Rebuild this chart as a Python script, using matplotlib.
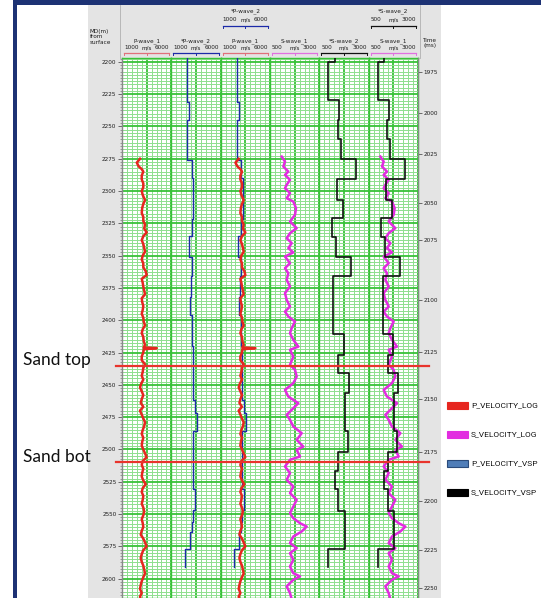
import numpy as np
import matplotlib
matplotlib.use("Agg")
import matplotlib.pyplot as plt
from matplotlib.patches import Rectangle
from matplotlib.lines import Line2D
from matplotlib.transforms import blended_transform_factory

# ---------------- data ----------------
# P-wave_1 : P_VELOCITY_LOG (m/s) vs measured depth (m)
p_log_depth = [2275, 2278, 2281, 2283, 2285, 2288, 2291, 2294, 2297, 2300, 2303, 2307, 2310, 2313,
               2317, 2320, 2323, 2326, 2329, 2332, 2335, 2338, 2341, 2344, 2347, 2350, 2353, 2356,
               2359, 2362, 2365, 2368, 2371, 2374, 2377, 2380, 2383, 2386, 2389, 2392, 2395, 2398,
               2401, 2404, 2407, 2410, 2413, 2416, 2419, 2421, 2421.6, 2422.5, 2425, 2428, 2431,
               2434, 2437, 2440, 2443, 2446, 2449, 2452, 2455, 2458, 2461, 2464, 2467, 2470, 2473,
               2476, 2479, 2482, 2485, 2488, 2491, 2494, 2497, 2500, 2503, 2506, 2509, 2512, 2515,
               2518, 2521, 2524, 2527, 2530, 2533, 2536, 2539, 2542, 2545, 2548, 2551, 2554, 2557,
               2560, 2563, 2566, 2569, 2572, 2575, 2578, 2581, 2584, 2587, 2590, 2593, 2596, 2599,
               2602, 2605, 2608, 2611, 2614, 2616]
p_log_vel = [2830, 2500, 2700, 3000, 3160, 3000, 3000, 3160, 3160, 3000, 3100, 3330, 3160, 3050,
             3000, 3160, 3160, 3330, 3250, 3500, 3160, 3000, 3160, 3250, 3330, 3100, 3000, 3160,
             3160, 3400, 3500, 3000, 3100, 3160, 3250, 3330, 3000, 3050, 3160, 3100, 3000, 3160,
             3200, 3330, 3100, 3000, 3160, 3200, 3330, 3200, 4520, 3200, 3160, 3000, 3000,
             3330, 3160, 3100, 3000, 3160, 2950, 2825, 3000, 3160, 3000, 2900, 3160, 2825, 3000,
             3160, 3330, 3250, 3100, 3000, 3160, 3050, 3000, 3160, 3330, 3500, 3100, 3000, 3160,
             3050, 3000, 3160, 3400, 3100, 3000, 3160, 3100, 3000, 3160, 3250, 3160, 3000, 3100,
             3160, 3000, 2900, 3160, 3330, 3500, 3160, 3000, 2900, 3000, 3160, 3250, 3330, 3160,
             3000, 2900, 2825, 3000, 2825, 2900]

# S-wave_1 : S_VELOCITY_LOG (m/s)
s_log_depth = [2273.3, 2277.2, 2281, 2284.9, 2287.5, 2291.3, 2295.2, 2297.8, 2301.6, 2305.5, 2308.1,
               2313.2, 2318.4, 2323.6, 2328.7, 2332.6, 2336.5, 2340.3, 2344.2, 2347.5, 2350.7, 2355.8,
               2359.7, 2363.6, 2368.7, 2373.9, 2379, 2384.2, 2389.4, 2393.3, 2397.1, 2401, 2406.1,
               2410, 2415.2, 2420.4, 2422.9, 2428.1, 2434.5, 2438.4, 2443.6, 2448.7, 2453.9, 2459.1,
               2464.2, 2469.4, 2473.2, 2477.1, 2482.3, 2487.4, 2492.6, 2497.8, 2500.3, 2505.5, 2508,
               2513.2, 2518.3, 2523.5, 2528.7, 2533.8, 2539, 2544.2, 2549.3, 2553.2, 2557.1, 2559.7,
               2563.5, 2567.4, 2572.5, 2576.4, 2580.3, 2585.4, 2590.6, 2595.8, 2598.3, 2600.9, 2606,
               2611.2, 2616]
s_log_vel = [1093, 1260, 1175, 1428, 1260, 1514, 1345, 1260, 1514, 1345, 1681,
             1818, 1767, 1514, 1853, 1514, 1345, 1600, 1428, 1681, 1260, 1514,
             1260, 1428, 1345, 1514, 1260, 1345, 1514, 1260, 1428, 1767, 1600,
             1514, 1681, 1935, 1514, 1681, 1514, 1767, 1853, 1681, 1260, 1428,
             1935, 1600, 1345, 1514, 1681, 2107, 1853, 2188, 1853, 2021, 1514,
             1260, 1514, 1345, 1681, 1514, 1853, 1681, 1514, 1681, 2021, 2360,
             2107, 1681, 1514, 1853, 1514, 1681, 1514, 1681, 2021, 1681, 1345,
             1514, 1600]

# *P-wave_2 : P_VELOCITY_VSP, blocky (interval boundaries + interval values)
p_vsp_bounds = [2197, 2231, 2245, 2276, 2290, 2322, 2335, 2351, 2366, 2382, 2396, 2420, 2462,
                2472, 2486, 2531, 2547, 2556, 2564, 2577, 2591]
p_vsp_vel = [2620, 2820, 2620, 3070, 3230, 3070, 2790, 3070, 3000, 2900, 3070, 3200, 3400,
             3570, 3170, 3400, 3170, 3070, 2900, 2390]

# *S-wave_2 : S_VELOCITY_VSP, blocky
s_vsp_bounds = [2197, 2200, 2229.4, 2245, 2260, 2275, 2291, 2306.8, 2320.7, 2335.2, 2351, 2366,
                2411, 2427, 2441, 2456, 2486, 2502, 2517, 2531, 2548, 2577, 2591]
s_vsp_vel = [1296, 956, 1514, 1433, 1585, 2360, 1382, 1686, 1128, 1346, 2107, 1210, 1752, 1463,
             2005, 1802, 1940, 1463, 1296, 1463, 1802, 956]

depth_ticks = [2200, 2225, 2250, 2275, 2300, 2325, 2350, 2375, 2400, 2425, 2450, 2475, 2500,
               2525, 2550, 2575, 2600]
time_ticks = [1975, 2000, 2025, 2050, 2075, 2100, 2125, 2150, 2175, 2200, 2225, 2250]
time_tick_depths = [2207.7, 2239.5, 2271.2, 2309.1, 2337.8, 2384.2, 2424.5, 2460.8, 2501.9,
                    2539.8, 2577.7, 2607.1]

sand_top_depth = 2435.3
sand_bot_depth = 2509.6

track_titles = ["P-wave_1", "*P-wave_2", "P-wave_1", "S-wave_1", "*S-wave_2", "S-wave_1"]
track_lo = [1000, 1000, 1000, 500, 500, 500]
track_hi = [6000, 6000, 6000, 3000, 3000, 3000]
legend_labels = ["P_VELOCITY_LOG", "S_VELOCITY_LOG", "P_VELOCITY_VSP", "S_VELOCITY_VSP"]

# ---------------- style ----------------
C_PLOG = "#e6261f"
C_SLOG = "#e22ce0"
C_PVSP = "#1c2aa8"
C_SVSP = "#111111"
C_MAJ = "#38c238"
C_MIN = "#8ede8e"
NAVY = "#1d3274"
GRAY = "#e4e4e4"
TXT = "#1e1e1e"
SMALL = dict(family=["Liberation Sans Narrow", "DejaVu Sans"], stretch="condensed")

W, H = 541, 598
fig = plt.figure(figsize=(W / 100, H / 100), dpi=100)
fig.patch.set_facecolor("white")


def fx(px):
    return px / W


def fy(py):
    return 1 - py / H


# frame
fig.add_artist(Rectangle((fx(88), 0), fx(441) - fx(88), fy(5), transform=fig.transFigure,
                         facecolor=GRAY, edgecolor="none", zorder=0))
fig.add_artist(Rectangle((fx(13), fy(5)), 1 - fx(13), 5 / H, transform=fig.transFigure,
                         facecolor=NAVY, edgecolor="none", zorder=0))
fig.add_artist(Rectangle((fx(13), 0), 4 / W, 1, transform=fig.transFigure,
                         facecolor=NAVY, edgecolor="none", zorder=0))

# tracks
PL, PR, PT = 122, 418, 58
tw = (PR - PL) / 6
ybot = 2614.9
ytop = 2197
axes = []
for i in range(6):
    ax = fig.add_axes([fx(PL + i * tw), 0, tw / W, fy(PT)])
    lo, hi = track_lo[i], track_hi[i]
    ax.set_xlim(lo, hi)
    ax.set_ylim(ybot, ytop)
    ax.set_facecolor("white")
    ax.set_xticks(np.linspace(lo, hi, 3))
    ax.set_xticks(np.linspace(lo, hi, 11), minor=True)
    ax.set_yticks(depth_ticks)
    ax.set_yticks(np.arange(2197.5, 2616, 2.5), minor=True)
    ax.grid(which="minor", color=C_MIN, lw=0.7)
    ax.grid(which="major", color=C_MAJ, lw=1.3)
    ax.set_axisbelow(True)
    ax.tick_params(which="both", length=0, labelleft=False, labelbottom=False)
    for s in ax.spines.values():
        s.set_color(C_MAJ)
        s.set_linewidth(1.0)
    axes.append(ax)

# depth axis on first track
ax0 = axes[0]
ax0.tick_params(which="major", axis="y", length=3, width=0.6, color="#555555",
                labelleft=True, labelsize=4.6, pad=1, labelcolor=TXT)
ax0.tick_params(which="minor", axis="y", length=1.5, width=0.5, color="#777777")
ax0.set_yticklabels([str(d) for d in depth_ticks], **SMALL)
ax0.spines["left"].set_color("#888888")

# time axis on last track
axt = axes[5].twinx()
axt.set_ylim(ybot, ytop)
axt.set_yticks(time_tick_depths)
axt.set_yticklabels([str(t) for t in time_ticks], **SMALL)
axt.tick_params(axis="y", length=3, width=0.6, color="#555555", labelsize=4.6, pad=1,
                labelcolor=TXT)
for s in axt.spines.values():
    s.set_visible(False)
axt.spines["right"].set_visible(True)
axt.spines["right"].set_color("#888888")

# curves
def blocks(bounds, vals):
    b = np.asarray(bounds, float)
    y = np.column_stack([b[:-1], b[1:]]).ravel()
    x = np.repeat(np.asarray(vals, float), 2)
    return x, y

pvx, pvy = blocks(p_vsp_bounds, p_vsp_vel)
svx, svy = blocks(s_vsp_bounds, s_vsp_vel)

axes[0].plot(p_log_vel, p_log_depth, color=C_PLOG, lw=1.8, zorder=3)
axes[1].plot(pvx, pvy, color=C_PVSP, lw=1.0, zorder=3)
axes[2].plot(pvx, pvy, color=C_PVSP, lw=1.0, zorder=3)
axes[2].plot(p_log_vel, p_log_depth, color=C_PLOG, lw=1.8, zorder=4)
axes[3].plot(s_log_vel, s_log_depth, color=C_SLOG, lw=1.8, zorder=3)
axes[4].plot(svx, svy, color=C_SVSP, lw=1.2, zorder=3)
axes[5].plot(s_log_vel, s_log_depth, color=C_SLOG, lw=1.8, zorder=3)
axes[5].plot(svx, svy, color=C_SVSP, lw=1.2, zorder=4)

# sand markers
tr = blended_transform_factory(fig.transFigure, ax0.transData)
for d in (sand_top_depth, sand_bot_depth):
    fig.add_artist(Line2D([fx(116), fx(429)], [d, d], transform=tr, color="#e8342c",
                          lw=1.6, zorder=10))
fig.text(fx(23), fy(360), "Sand top", fontsize=12.5, family=["Lato", "DejaVu Sans"],
         ha="left", va="center", color="#111111")
fig.text(fx(23), fy(457), "Sand bot", fontsize=12.5, family=["Lato", "DejaVu Sans"],
         ha="left", va="center", color="#111111")

# header
def header(x0, x1, yname, ynum, yline, name, lo, hi, color):
    xm = (x0 + x1) / 2
    fig.text(fx(xm), fy(yname), name, fontsize=4.6, ha="center", va="center", color=TXT, **SMALL)
    fig.text(fx(x0 + 2), fy(ynum), str(lo), fontsize=4.6, ha="left", va="center", color=TXT, **SMALL)
    fig.text(fx(xm), fy(ynum), "m/s", fontsize=4.6, ha="center", va="center", color=TXT, **SMALL)
    fig.text(fx(x1 - 2), fy(ynum), str(hi), fontsize=4.6, ha="right", va="center", color=TXT, **SMALL)
    fig.add_artist(Line2D([fx(x0 + 2), fx(x1 - 2)], [fy(yline)] * 2, color=color, lw=0.9))
    for xx in (x0 + 2, xm, x1 - 2):
        fig.add_artist(Line2D([fx(xx)] * 2, [fy(yline), fy(yline + 2)], color=color, lw=0.7))

hdr_colors = ["#e0707a", C_PVSP, "#e0707a", "#e070e0", C_SVSP, "#e070e0"]
for i in range(6):
    x0 = PL + i * tw
    header(x0, x0 + tw, 41.5, 47.5, 52.5, track_titles[i], track_lo[i], track_hi[i], hdr_colors[i])
header(PL + 2 * tw, PL + 3 * tw, 11.5, 19.5, 26, track_titles[1], track_lo[1], track_hi[1], C_PVSP)
header(PL + 5 * tw, PL + 6 * tw, 11.5, 19.5, 26, track_titles[4], track_lo[4], track_hi[4], C_SVSP)

for xx in (120, 420):
    fig.add_artist(Line2D([fx(xx)] * 2, [fy(5), fy(PT)], color="#b0b0b0", lw=0.6))
fig.text(fx(90), fy(37), "MD(m)\nfrom\nsurface", fontsize=4.6, ha="left", va="center",
         color=TXT, linespacing=1.1, **SMALL)
fig.text(fx(423), fy(43), "Time\n(ms)", fontsize=4.6, ha="left", va="center", color=TXT,
         linespacing=1.2, **SMALL)

# legend
leg_colors = [C_PLOG, C_SLOG, "#4f7db8", "#000000"]
leg_edges = [C_PLOG, C_SLOG, "#2a4a7a", "#000000"]
leg_y = [405, 434, 463, 492]
for lab, c, ec, yy in zip(legend_labels, leg_colors, leg_edges, leg_y):
    fig.add_artist(Rectangle((fx(447), fy(yy + 3.5)), 21 / W, 7 / H, transform=fig.transFigure,
                             facecolor=c, edgecolor=ec, lw=0.8))
    fig.text(fx(471), fy(yy), lab, fontsize=6.0, ha="left", va="center", color="#111111",
             family=["Roboto", "DejaVu Sans"])

fig.savefig("out.png", dpi=100)
